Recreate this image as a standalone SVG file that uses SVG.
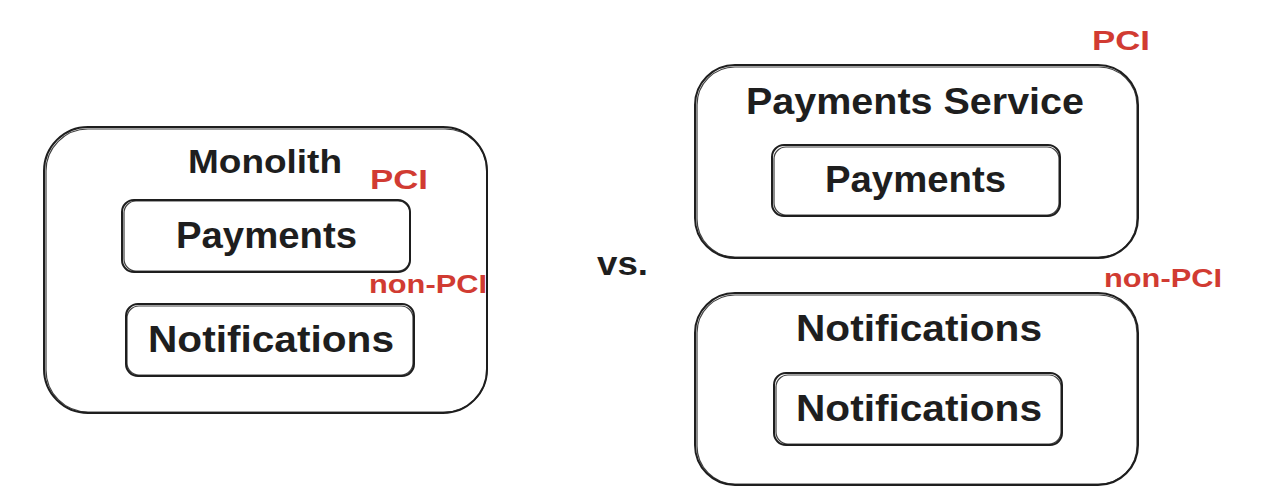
<svg xmlns="http://www.w3.org/2000/svg" width="1266" height="504" viewBox="0 0 1266 504">
<style>
.box{fill:none;stroke:#1e1e1e;stroke-width:2;stroke-linejoin:round}
.box2{fill:none;stroke:#1e1e1e;stroke-width:1.2;opacity:.85}
.t{font-family:"Liberation Sans",Arial,sans-serif;fill:#1e1e1e;font-weight:bold;text-anchor:start}
.r{font-family:"Liberation Sans",Arial,sans-serif;fill:#d13b32;font-weight:bold}
</style>
<rect width="1266" height="504" fill="#ffffff"/>
<g id="monolith">
<rect class="box" x="44" y="127" width="443" height="286" rx="44"/>
<rect class="box2" x="46" y="129" width="441" height="283" rx="42"/>
<text class="t" x="188" y="173" font-size="33" textLength="154" lengthAdjust="spacingAndGlyphs">Monolith</text>
</g>
<g id="mono-payments">
<rect class="box" x="122" y="200" width="288" height="72" rx="12"/>
<rect class="box2" x="124" y="201" width="286" height="70" rx="12"/>
<text class="t" x="176" y="248" font-size="37" textLength="181" lengthAdjust="spacingAndGlyphs">Payments</text>
</g>
<g id="mono-notifications">
<rect class="box" x="126" y="304" width="288" height="72" rx="12"/>
<rect class="box2" x="127" y="306" width="286" height="69" rx="12"/>
<text class="t" x="148" y="352" font-size="37" textLength="246" lengthAdjust="spacingAndGlyphs">Notifications</text>
</g>
<text class="r" x="370" y="189" font-size="27" textLength="58" lengthAdjust="spacingAndGlyphs">PCI</text>
<text class="r" x="369" y="293" font-size="26" textLength="118" lengthAdjust="spacingAndGlyphs">non-PCI</text>
<text class="t" x="597" y="275" font-size="33" textLength="51" lengthAdjust="spacingAndGlyphs">vs.</text>
<g id="payments-service">
<rect class="box" x="695" y="65" width="443" height="193" rx="40"/>
<rect class="box2" x="697" y="67" width="440" height="190" rx="38"/>
<text class="t" x="746" y="114" font-size="36" textLength="338" lengthAdjust="spacingAndGlyphs">Payments Service</text>
</g>
<g id="svc-payments">
<rect class="box" x="772" y="145" width="288" height="71" rx="12"/>
<rect class="box2" x="774" y="147" width="285" height="68" rx="12"/>
<text class="t" x="825" y="192" font-size="37" textLength="181" lengthAdjust="spacingAndGlyphs">Payments</text>
</g>
<text class="r" x="1092" y="50" font-size="27" textLength="58" lengthAdjust="spacingAndGlyphs">PCI</text>
<g id="notifications-service">
<rect class="box" x="695" y="293" width="443" height="192" rx="40"/>
<rect class="box2" x="697" y="295" width="440" height="189" rx="38"/>
<text class="t" x="796" y="341" font-size="37" textLength="246" lengthAdjust="spacingAndGlyphs">Notifications</text>
</g>
<g id="svc-notifications">
<rect class="box" x="774" y="373" width="288" height="72" rx="12"/>
<rect class="box2" x="776" y="375" width="285" height="69" rx="12"/>
<text class="t" x="796" y="421" font-size="37" textLength="246" lengthAdjust="spacingAndGlyphs">Notifications</text>
</g>
<text class="r" x="1104" y="287" font-size="26" textLength="118" lengthAdjust="spacingAndGlyphs">non-PCI</text>
<g id="connectors"></g>
</svg>
